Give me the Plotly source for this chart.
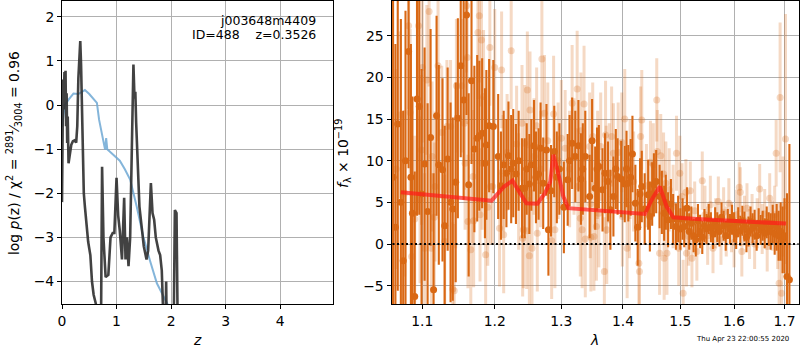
import numpy as np
import plotly.graph_objects as go

# ---------------- left panel: p(z) ----------------
pz_z = [0.000, 0.010, 0.020, 0.030, 0.045, 0.055, 0.065, 0.075, 0.085, 0.095, 0.105, 0.12, 0.14,
        0.17, 0.20, 0.23, 0.26, 0.28, 0.30, 0.32, 0.335, 0.35, 0.365, 0.38, 0.40, 0.42, 0.45, 0.48,
        0.50, 0.52, 0.55, 0.58, 0.62, 0.66, 0.71, 0.735, 0.76, 0.80, 0.85, 0.89, 0.93, 0.96, 1.00,
        1.03, 1.06, 1.10, 1.14, 1.165, 1.19, 1.22, 1.25, 1.28, 1.297, 1.31, 1.33, 1.345, 1.36, 1.38,
        1.42, 1.46, 1.50, 1.55, 1.58, 1.63, 1.66, 1.69, 1.72, 1.77, 1.80, 1.83, 1.86, 1.89, 1.91,
        1.93, 2.04, 2.07, 2.10, 2.13, 3.0]
pz_logp = [-2.2, -0.86, 0.58, -0.1, 0.75, 0.12, 0.78, -0.48, 0.27, -0.86, -0.26, -1.32, -1.09,
           -0.9, -0.82, -0.8, -0.85, -0.48, 0.6, 1.1, 1.45, 0.9, -0.1, -1.2, -2.0, -2.3, -2.75, -3.1,
           -3.25, -3.4, -4.0, -4.3, -4.5, -6, -6, -1.4, -3.0, -3.9, -3.85, -3.0, -2.9, -2.9, -1.65,
           -2.5, -2.85, -3.5, -2.1, -3.5, -3.0, -3.65, -3.0, -1.0, 0.88, 0.92, 0.15, 0.3, -0.4, -1.0,
           -2.3, -2.75, -3.2, -3.5, -3.3, -1.77, -2.45, -2.6, -3.0, -3.3, -3.4, -3.75, -6, -6, -4.0,
           -6, -6, -2.38, -2.45, -6, -8]

chi_z = [0.0, 0.05, 0.12, 0.21, 0.30, 0.36, 0.42, 0.50, 0.57, 0.64, 0.68, 0.73, 0.79, 0.81, 0.83,
         0.91, 1.00, 1.06, 1.15, 1.25, 1.37, 1.49, 1.61, 1.74, 1.95]
chi_logp = [-0.5, 0.0, 0.125, 0.26, 0.25, 0.30, 0.34, 0.25, 0.16, 0.05, -0.33, -0.63, -1.01, -0.75,
            -1.0, -1.09, -1.2, -1.26, -1.45, -1.69, -2.3, -2.98, -3.51, -4.04, -4.55]

# ---------------- right panel: spectrum ----------------
dark_lam = [1.062, 1.065, 1.068, 1.072, 1.075, 1.078, 1.082, 1.085, 1.087, 1.090, 1.093, 1.096,
            1.099, 1.103, 1.107, 1.111, 1.115, 1.119, 1.122, 1.127, 1.130, 1.134, 1.138, 1.141,
            1.145, 1.148, 1.152, 1.156, 1.160, 1.163, 1.167, 1.171, 1.175, 1.178, 1.182, 1.186,
            1.188, 1.192, 1.198, 1.205, 1.209, 1.213, 1.217, 1.220, 1.224, 1.227, 1.231, 1.235,
            1.240, 1.244, 1.247, 1.251, 1.254, 1.258, 1.261, 1.265, 1.268, 1.272, 1.277, 1.280,
            1.284, 1.289, 1.293, 1.297, 1.304, 1.310, 1.313, 1.317, 1.322, 1.327, 1.331, 1.334,
            1.338, 1.345, 1.349, 1.354, 1.357, 1.360, 1.366, 1.370, 1.375, 1.379, 1.384, 1.388,
            1.391, 1.397, 1.403, 1.406, 1.409, 1.413, 1.416, 1.421, 1.425, 1.429, 1.432, 1.437,
            1.443, 1.446, 1.450, 1.453, 1.457, 1.463, 1.467, 1.471, 1.474, 1.478, 1.483, 1.487,
            1.492, 1.496, 1.500, 1.504, 1.507, 1.512, 1.516, 1.520, 1.524, 1.528, 1.532, 1.536,
            1.540, 1.544, 1.548, 1.552, 1.556, 1.560, 1.564, 1.568, 1.572, 1.576, 1.580, 1.584,
            1.588, 1.592, 1.596, 1.600, 1.604, 1.608, 1.612, 1.616, 1.620, 1.624, 1.628, 1.632,
            1.636, 1.640, 1.644, 1.648, 1.652, 1.656, 1.660, 1.664, 1.668, 1.672, 1.676, 1.680,
            1.684, 1.688, 1.692, 1.696, 1.700, 1.705, 1.710]
dark_flux = [8, 2, 14.4, 5, -2, 10, 23.1, 8, 3.7, -6.3, 17.4, 16.5,
             6, 9.6, 3.9, 12.8, -5.5, 15.4, 9.5, 8.9, 2.2, 10.2, 5, 4.2,
             7.4, 15.1, 21.4, 17.3, 27.5, 7.1, 19.6, 11.4, 12.7, 13.0, 13.3, 9.7,
             11.9, 14.2, 14.1, 10.5, 7, 9.5, 8.5, 10.6, 9, 9.7, 8.4, 10,
             6.7, 6.7, 9, 7.2, 9.5, 11.8, 8, 8.4, 11.5, 7.3, 11.3, 1.7,
             6.4, 11.1, 8, 9, 4.4, 7.7, 10, 12.1, 10.5, 11.8, 7.8, 9,
             10.5, 5.7, 12.4, 6.7, 9, 9.3, 6.5, 8.5, 7.5, 4.1, 5.7, 9,
             8.1, 7.8, 7.2, 9, 7.3, 8, 10.8, 4.9, 2.0, 6, 6.9, 4.2,
             5.9, 3.3, 6, 7.1, 7.5, 5.7, 5, 3.7, 5, 2.9, 4.8, 3,
             2.1, 3, 1.8, 3, 2.1, 4.3, 1.5, 2.5, 1.0, 0.5, 2.8, 1.5,
             0.8, 2.2, 1.8, 3.0, 2.0, 1.2, 2.6, 2.0, 1.5, 3.2, 2.2, 1.0,
             2.4, 1.8, 2.9, 2.0, 1.2, 2.6, 1.6, 2.8, 2.1, 0.8, 1.5, 2.7,
             1.9, 2.3, 1.0, 2.5, 1.7, 2.2, 1.3, 2.6, 1.8, 1.5, 2.4, 1.2,
             2.0, 1.0, 1.5, 0.5, 1.0, -3.9, -4.3]
dark_err = [24, 22, 20, 22, 18, 18, 14, 16, 14, 15, 14, 13,
            15, 14, 13, 13, 14, 12, 12, 11, 12, 11, 12, 11,
            12, 12, 11, 12, 12, 11, 10, 10, 10, 9, 9, 9,
            9, 8, 8, 7.5, 6.5, 6.5, 6.5, 6.5, 6.5, 6.5, 6, 6,
            6, 6, 5.5, 6, 5.5, 5.5, 5.5, 5.5, 5.5, 5.5, 5.5, 5.5,
            5.5, 5.5, 5.5, 5.5, 5.5, 5.5, 5.5, 5.5, 5.5, 5.5, 5.5, 5.5,
            5.5, 5, 5, 5, 5, 5, 5, 4.8, 4.8, 4.8, 4.8, 4.8,
            4.6, 4.6, 4.6, 4.6, 4.6, 4.6, 4.6, 4.6, 4.6, 4.3, 4.3, 4.3,
            4.2, 4.2, 3.8, 3.8, 3.8, 3.8, 3.8, 3.3, 3.3, 3.3, 3, 3,
            2.8, 2.8, 2.5, 2.5, 2.5, 2.5, 2.2, 2, 2, 2, 2, 2,
            2, 2, 1.8, 1.8, 1.8, 1.8, 1.8, 1.8, 1.8, 1.8, 1.8, 1.8,
            1.8, 1.8, 1.8, 1.8, 1.8, 1.8, 1.8, 1.8, 1.8, 1.8, 1.8, 1.8,
            1.8, 1.8, 1.8, 1.8, 1.8, 1.8, 1.8, 1.9, 2, 2.2, 2.3, 2.5,
            2.8, 3, 3.5, 4, 4.5, 10, 16.3]

light_lam = [1.066, 1.071, 1.077, 1.082, 1.084, 1.086, 1.090, 1.095, 1.097, 1.099, 1.100, 1.103,
             1.106, 1.109, 1.112, 1.113, 1.116, 1.117, 1.121, 1.126, 1.130, 1.133, 1.138, 1.141,
             1.143, 1.145, 1.146, 1.153, 1.157, 1.158, 1.160, 1.161, 1.162, 1.166, 1.169, 1.170,
             1.176, 1.178, 1.179, 1.181, 1.182, 1.184, 1.187, 1.190, 1.193, 1.194, 1.197,
             1.200, 1.207, 1.210, 1.212, 1.213, 1.218, 1.224, 1.232, 1.235, 1.240, 1.241, 1.242,
             1.244, 1.247, 1.248, 1.251, 1.252, 1.255, 1.258, 1.262, 1.263, 1.268, 1.270, 1.274,
             1.279, 1.285, 1.288, 1.290, 1.295, 1.300, 1.306, 1.313, 1.317, 1.320, 1.325, 1.326,
             1.330, 1.331, 1.333, 1.336, 1.338, 1.345, 1.346, 1.347, 1.350, 1.352, 1.356, 1.358,
             1.360, 1.363, 1.369, 1.371, 1.372, 1.373, 1.377, 1.381, 1.384, 1.392, 1.398, 1.399,
             1.403, 1.407, 1.411, 1.412, 1.418, 1.427, 1.428, 1.430, 1.432, 1.440, 1.447, 1.452,
             1.458, 1.459, 1.463, 1.465, 1.470, 1.471, 1.474, 1.476, 1.480, 1.487, 1.493, 1.497,
             1.499, 1.503, 1.505, 1.510, 1.511, 1.515, 1.518, 1.521, 1.526, 1.530, 1.540, 1.545,
             1.550, 1.555, 1.560, 1.565, 1.570, 1.575, 1.580, 1.585, 1.590, 1.595, 1.600, 1.605,
             1.610, 1.612, 1.615, 1.620, 1.625, 1.630, 1.635, 1.640, 1.645, 1.650, 1.655, 1.660,
             1.665, 1.670, 1.675, 1.680, 1.683, 1.686, 1.689, 1.691, 1.694, 1.697, 1.702]
light_flux = [9, 15.5, 6.1, 26.2, 15.8, -1.5, 3, 26.2, 5.3, 11.3, 21.2, -0.5,
              19.7, 27.9, -0.5, 10.5, 3.2, 6.9, 21.4, 13.4, 0.3, 14.1, 14.1, -5.4,
              -5.6, 7.5, 19.0, 19.0, 14.5, 9.7, 28.6, 22.4, 2.7, -0.7, 8.1, 2.8,
              25.4, 27.4, 3.5, 24.5, 9.7, 17.7, -1.3, 4.4, 23.6, 6.9, 6.9,
              21.2, 1.9, 20.9, 8.5, 1.1, 11, 23.2, 12, 6.3, 14.5, 0.7, 1.7,
              12.1, 1.6, 18.5, -1.4, 16.1, -0.5, 10.5, 14.2, 1.3, 9, 22.2, 15.7,
              12.4, 0.4, 15.6, 1.7, 10, 12.7, 11.5, 9, 16.9, 10.5, 18.6, 6.9,
              3.1, 13.6, 1.7, 16.8, 0.6, 11.7, 4.8, 0.8, 12.9, 0.9, 2.1, 9.5,
              3.7, 11.7, -3.3, 13.1, 7.7, 1.7, 8.5, 12.9, 10.9, 11, 12.2, 3.3,
              15.0, -0.5, 4.3, 9.0, 7.5, -2.3, -3.3, 12.9, 14.9, 7, 9.8, 9.5,
              17.3, 11.1, -1.1, 10.6, 8.4, -1.7, 7.3, -1.1, 6.5, 4.5, 10.9, -0.5,
              8.5, 5.7, -5.9, 6.2, -1.1, 0.9, 6.4, -1.7, 4.0, -0.9, 7.6, 3.5,
              1.0, 4.7, -0.5, 2.5, 5.1, 0.5, 3.8, 1.5, 4.9, 2.0, 0.2, 3.5,
              6.8, 6.2, -0.9, 2.8, 4.3, 1.2, 3.0, 0.0, 2.5, 6.6, 1.8, 3.6,
              -0.3, 5.5, 2.2, 3.5, 10.9, 1.0, -4.7, 17.6, -5.9, 4.5, 12.6]
light_err = [12, 10, 10, 10, 10, 10, 10, 9, 10, 9, 9, 9,
             9, 9, 9, 9, 9, 9, 9, 8, 8, 8, 8, 8,
             8, 8, 8, 8, 8, 8, 8, 8, 8, 8, 8, 8,
             8, 8, 8, 8, 8, 8, 8, 7, 7, 7, 7,
             7, 7, 7, 7, 7, 7, 7, 7, 7, 7, 7, 7,
             7, 7, 7, 7, 7, 7, 7, 7, 7, 7, 7, 7,
             7, 7, 7, 7, 7, 7, 7, 7, 7, 7, 7, 7,
             7, 7, 7, 7, 7, 6.5, 6.5, 6.5, 6.5, 6.5, 6.5, 6.5,
             6.5, 6.5, 6.5, 6.5, 6.5, 6.5, 6, 6, 6, 6, 6, 6,
             6, 6, 6, 6, 6, 6, 6, 6, 6, 5, 5, 5,
             5, 5, 5, 5, 5, 5, 5, 5, 5, 5, 4.5, 4.5,
             4.5, 4, 4, 4, 4, 3.5, 3.5, 3.5, 3.5, 3.5, 3.5, 3.5,
             3.5, 3.5, 3, 3, 3, 3, 3, 3, 3, 3, 3, 3,
             3, 3, 3, 3, 3, 3, 3, 3, 3, 3, 3, 3,
             3, 3, 3, 3.5, 4, 4, 5, 9, 6, 6, 15]

model_lam = [1.072, 1.126, 1.163, 1.1955, 1.2137, 1.226, 1.2356, 1.2466, 1.2633, 1.2747, 1.283,
             1.2876, 1.2953, 1.3032, 1.311, 1.3564, 1.4374, 1.449, 1.4635, 1.4754, 1.4873,
             1.5297, 1.703]
model_flux = [6.2, 5.7, 5.4, 5.2, 6.9, 7.6, 6.3, 4.9, 4.85, 6.1, 7.5, 10.7, 8.5, 5.7, 4.3, 4.0,
              3.6, 5.3, 6.9, 4.5, 3.2, 3.0, 2.45]

x1_ticks = [0, 1, 2, 3, 4]
y1_ticks = [2, 1, 0, -1, -2, -3, -4]
x2_ticks = [1.1, 1.2, 1.3, 1.4, 1.5, 1.6, 1.7]
y2_ticks = [25, 20, 15, 10, 5, 0, -5]

ORANGE = "rgb(217,104,20)"
ORANGE_L = "rgba(217,104,20,0.25)"
FONT = "DejaVu Sans"

fig = go.Figure()

# left panel
fig.add_trace(go.Scatter(x=chi_z, y=chi_logp, mode="lines", xaxis="x", yaxis="y",
                         line=dict(color="rgba(110,168,212,0.85)", width=2), showlegend=False))
fig.add_trace(go.Scatter(x=pz_z, y=pz_logp, mode="lines", xaxis="x", yaxis="y",
                         line=dict(color="rgba(50,50,50,0.92)", width=2.6), showlegend=False))

# right panel
fig.add_trace(go.Scatter(x=light_lam, y=light_flux, mode="markers", xaxis="x2", yaxis="y2",
                         marker=dict(color=ORANGE_L, size=7, line=dict(width=0)),
                         error_y=dict(type="data", array=light_err, thickness=3, width=0,
                                      color=ORANGE_L),
                         showlegend=False))
fig.add_trace(go.Scatter(x=dark_lam, y=dark_flux, mode="markers", xaxis="x2", yaxis="y2",
                         marker=dict(color=ORANGE, size=7, line=dict(width=0)),
                         error_y=dict(type="data", array=dark_err, thickness=2.1, width=0,
                                      color=ORANGE),
                         showlegend=False))
fig.add_trace(go.Scatter(x=model_lam, y=model_flux, mode="lines", xaxis="x2", yaxis="y2",
                         line=dict(color="rgba(255,25,25,0.7)", width=4), showlegend=False))
fig.add_trace(go.Scatter(x=[1.0, 1.8], y=[0, 0], mode="lines", xaxis="x2", yaxis="y2",
                         line=dict(color="black", width=2, dash="2px,2.5px"), showlegend=False))

W, H = 800, 350
axis_common = dict(showline=True, linecolor="black", linewidth=1, mirror=True,
                   ticks="outside", ticklen=4, tickcolor="black", tickwidth=1,
                   showgrid=True, gridcolor="#b0b0b0", gridwidth=1, zeroline=False,
                   automargin=False,
                   tickfont=dict(family=FONT, size=13.9, color="black"))

fig.update_layout(
    width=W, height=H, margin=dict(l=0, r=0, t=0, b=0, autoexpand=False),
    paper_bgcolor="white", plot_bgcolor="white",
    font=dict(family=FONT, color="black"),
    xaxis=dict(domain=[62 / W, 333 / W], range=[0, 4.97], tickvals=x1_ticks,
               anchor="y", **axis_common),
    yaxis=dict(domain=[1 - 304 / H, 1 - 1 / H], range=[-4.51, 2.36], tickvals=y1_ticks,
               anchor="x", **axis_common),
    xaxis2=dict(domain=[391.5 / W, 798.5 / W], type="log",
                range=[np.log10(1.060), np.log10(1.7288)], tickvals=x2_ticks,
                ticktext=[f"{t:.1f}" for t in x2_ticks], anchor="y2", **axis_common),
    yaxis2=dict(domain=[1 - 304 / H, 1 - 1 / H], range=[-7.2, 29.17], tickvals=y2_ticks,
                anchor="x2", **axis_common),
)

ann = []
ann.append(dict(x=318 / W, y=1 - 20 / H, xref="paper", yref="paper", xanchor="right",
                yanchor="middle", showarrow=False, text="j003648m4409",
                font=dict(family=FONT, size=12.5, color="black")))
ann.append(dict(x=318 / W, y=1 - 35 / H, xref="paper", yref="paper", xanchor="right",
                yanchor="middle", showarrow=False,
                text="ID=488&nbsp;&nbsp;&nbsp;&nbsp;z=0.3526",
                font=dict(family=FONT, size=12.5, color="black")))
ann.append(dict(x=14 / W, y=1 - 153 / H, xref="paper", yref="paper", xanchor="center",
                yanchor="middle", showarrow=False, textangle=-90,
                text="log <i>p</i>(z) / χ<sup>2</sup> = <sup>2891</sup>⁄<sub>3004</sub> = 0.96",
                font=dict(family=FONT, size=13.9, color="black")))
ann.append(dict(x=343 / W, y=1 - 154 / H, xref="paper", yref="paper", xanchor="center",
                yanchor="middle", showarrow=False, textangle=-90,
                text="<i>f</i><sub>λ</sub> × 10<sup>−19</sup>",
                font=dict(family=FONT, size=13.9, color="black")))
ann.append(dict(x=197 / W, y=1 - 340 / H, xref="paper", yref="paper", xanchor="center",
                yanchor="middle", showarrow=False, text="<i>z</i>",
                font=dict(family=FONT, size=13.9, color="black")))
ann.append(dict(x=594 / W, y=1 - 340 / H, xref="paper", yref="paper", xanchor="center",
                yanchor="middle", showarrow=False, text="<i>λ</i>",
                font=dict(family=FONT, size=13.9, color="black")))
ann.append(dict(x=742 / W, y=1 - 339 / H, xref="paper", yref="paper", xanchor="center",
                yanchor="middle", showarrow=False, text="Thu Apr 23 22:00:55 2020",
                font=dict(family=FONT, size=7, color="black")))
fig.update_layout(annotations=ann)

fig.write_html("out.html", config={"displayModeBar": False},
               post_script="document.body.style.margin='0px';document.body.style.overflow='hidden';")
